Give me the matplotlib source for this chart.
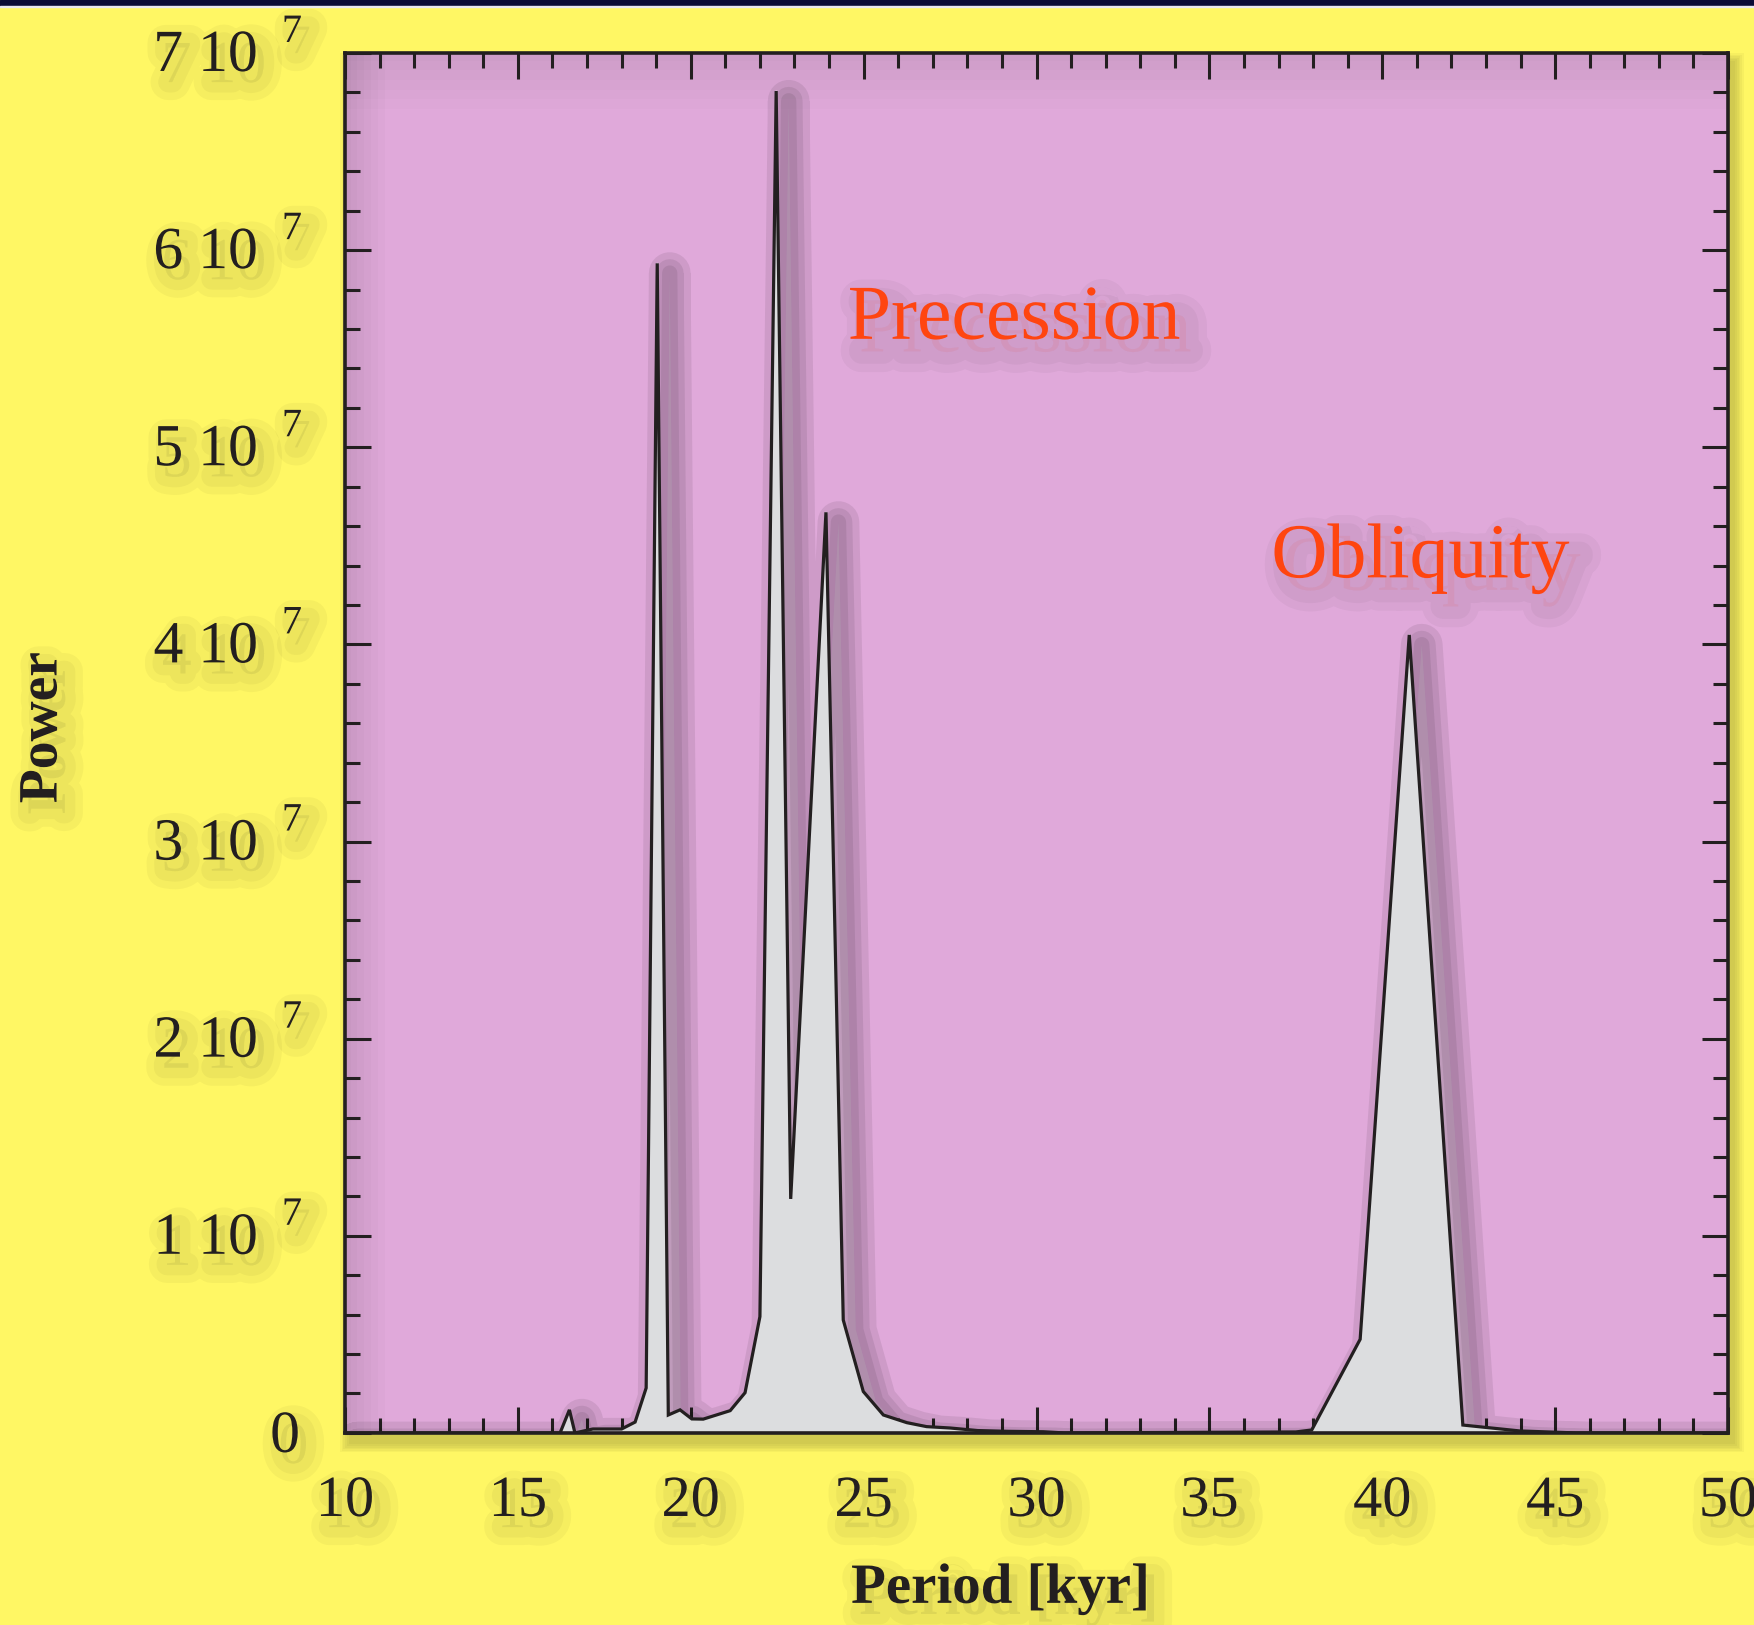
import numpy as np
import matplotlib
matplotlib.use("Agg")
import matplotlib.pyplot as plt
import matplotlib.patheffects as pe
from matplotlib.ticker import MultipleLocator, NullFormatter
from matplotlib.patches import Rectangle
from matplotlib.transforms import offset_copy

# spectrum: period [kyr], power
period = [10, 16.0, 16.22, 16.49, 16.65, 17.17, 18.0, 18.39, 18.71, 19.03,
          19.35, 19.69, 20.03, 20.36, 21.14, 21.57, 22.0, 22.47, 22.89, 23.91,
          24.41, 24.99, 25.57, 26.25, 26.82, 27.5, 28.3, 29.2, 30.2, 30.8,
          37.5, 37.96, 39.36, 40.78, 42.33, 43.98, 45.6, 50]
power_e6 = [0, 0, 0, 1.17, 0, 0.2, 0.2, 0.55, 2.28, 59.33,
            0.91, 1.17, 0.71, 0.7, 1.13, 2.04, 5.9, 68.07, 11.87, 46.7,
            5.73, 2.1, 0.91, 0.52, 0.32, 0.25, 0.12, 0.08, 0.06, 0,
            0.05, 0.15, 4.75, 40.48, 0.4, 0.1, 0, 0]
power = np.array(power_e6) * 1e6

labels = ["Precession", "Obliquity"]
label_x = [29.35, 41.1]
label_y = [55.5e6, 43.4e6]

yellow = "#fff764"
pink = "#e0a9da"
grey = "#dcdddf"
ink = "#231f20"
orange = "#ff4510"

plt.rcParams["font.family"] = ["Liberation Serif", "DejaVu Serif"]


def soft_shadow(dx, dy, widths, alpha):
    fx = [pe.Stroke(linewidth=w, foreground="black", alpha=alpha, offset=(dx, dy))
          for w in widths]
    return fx + [pe.Normal()]


fig = plt.figure(figsize=(17.54, 16.25), dpi=100)
fig.patch.set_facecolor(yellow)
fig.patches.append(Rectangle((0, 0.9965), 1, 0.0035, transform=fig.transFigure,
                             color="#0a0b35", zorder=5))
fig.patches.append(Rectangle((0, 0.9955), 1, 0.001, transform=fig.transFigure,
                             color="#e8e8f0", zorder=5))

pos = [0.1967, 0.1182, 0.7885, 0.8492]
# soft drop shadow of the plot frame on the yellow page
for k in range(6):
    g = 0.002 + 0.002 * k
    fig.patches.append(Rectangle((pos[0] + 0.003 - g / 2, pos[1] - 0.006 - g / 2),
                                 pos[2] + g, pos[3] + g, transform=fig.transFigure,
                                 color="black", alpha=0.03, lw=0, zorder=-1))

ax = fig.add_axes(pos)
ax.set_zorder(1)
ax.set_facecolor(pink)
ax.set_axisbelow(True)

# inner shade along top and left edges
for k in range(6):
    w = 0.004 + 0.005 * k
    ax.add_patch(Rectangle((0, 0), w, 1, transform=ax.transAxes, color="black",
                           alpha=0.015, lw=0, zorder=0.1))
    ax.add_patch(Rectangle((0, 1 - w * 1.4), 1, w * 1.4, transform=ax.transAxes,
                           color="black", alpha=0.013, lw=0, zorder=0.1))

poly = ax.fill_between(period, power, 0, color=grey, zorder=2)
poly.set_path_effects(soft_shadow(9, -7, [30, 20, 11], 0.08))
ax.plot(period, power, color=ink, lw=2.3, zorder=3, solid_joinstyle="miter")

text_fx = soft_shadow(8, -9, [30, 18], 0.035)
for t, x, y in zip(labels, label_x, label_y):
    ax.text(x, y, t, color=orange, fontsize=56, ha="center", va="baseline", zorder=4,
            path_effects=text_fx)

ax.set_xlim(10, 50)
ax.set_ylim(0, 7e7)
ax.xaxis.set_major_locator(MultipleLocator(5))
ax.xaxis.set_minor_locator(MultipleLocator(1))
ax.yaxis.set_major_locator(MultipleLocator(1e7))
ax.yaxis.set_minor_locator(MultipleLocator(2e6))
ax.yaxis.set_major_formatter(NullFormatter())

ax.tick_params(which="both", direction="in", top=True, right=True, color=ink, width=2.2)
ax.tick_params(which="major", length=19)
ax.tick_params(which="minor", length=11)
ax.tick_params(axis="x", which="major", labelsize=42, pad=31, labelcolor=ink)
for s in ax.spines.values():
    s.set_linewidth(2.6)
    s.set_color(ink)
    s.set_zorder(5)

tick_fx = soft_shadow(6, -8, [26, 15], 0.035)
for lab in ax.get_xticklabels():
    lab.set_path_effects(tick_fx)

# y tick labels written as "n 10" with a raised 7
ytr = ax.get_yaxis_transform()
main_tr = offset_copy(ytr, fig=fig, x=-87, y=-18, units="dots")
zero_tr = offset_copy(ytr, fig=fig, x=-45, y=-19, units="dots")
sup_tr = offset_copy(ytr, fig=fig, x=-43, y=11, units="dots")
for v in ax.get_yticks():
    if v < 0 or v > 7e7:
        continue
    n = int(round(v / 1e7))
    if n == 0:
        ax.text(0, v, "0", transform=zero_tr, ha="right", va="baseline",
                fontsize=43, color=ink, path_effects=tick_fx, clip_on=False)
        continue
    ax.text(0, v, "%d 10" % n, transform=main_tr, ha="right", va="baseline",
            fontsize=43, color=ink, path_effects=tick_fx, clip_on=False)
    ax.text(0, v, "7", transform=sup_tr, ha="right", va="baseline",
            fontsize=29, color=ink, path_effects=tick_fx, clip_on=False)

ax.set_xlabel("Period [kyr]", fontsize=41, fontweight="bold", color=ink,
              path_effects=tick_fx)
ax.xaxis.set_label_coords(0.474, -0.113)
ax.xaxis.label.set_va("center")
ax.set_ylabel("Power", fontsize=40, fontweight="bold", color=ink,
              path_effects=tick_fx)
ax.yaxis.set_label_coords(-0.2187, 0.511)
ax.yaxis.label.set_va("center")

fig.savefig("out.png", dpi=100, facecolor=fig.get_facecolor())
